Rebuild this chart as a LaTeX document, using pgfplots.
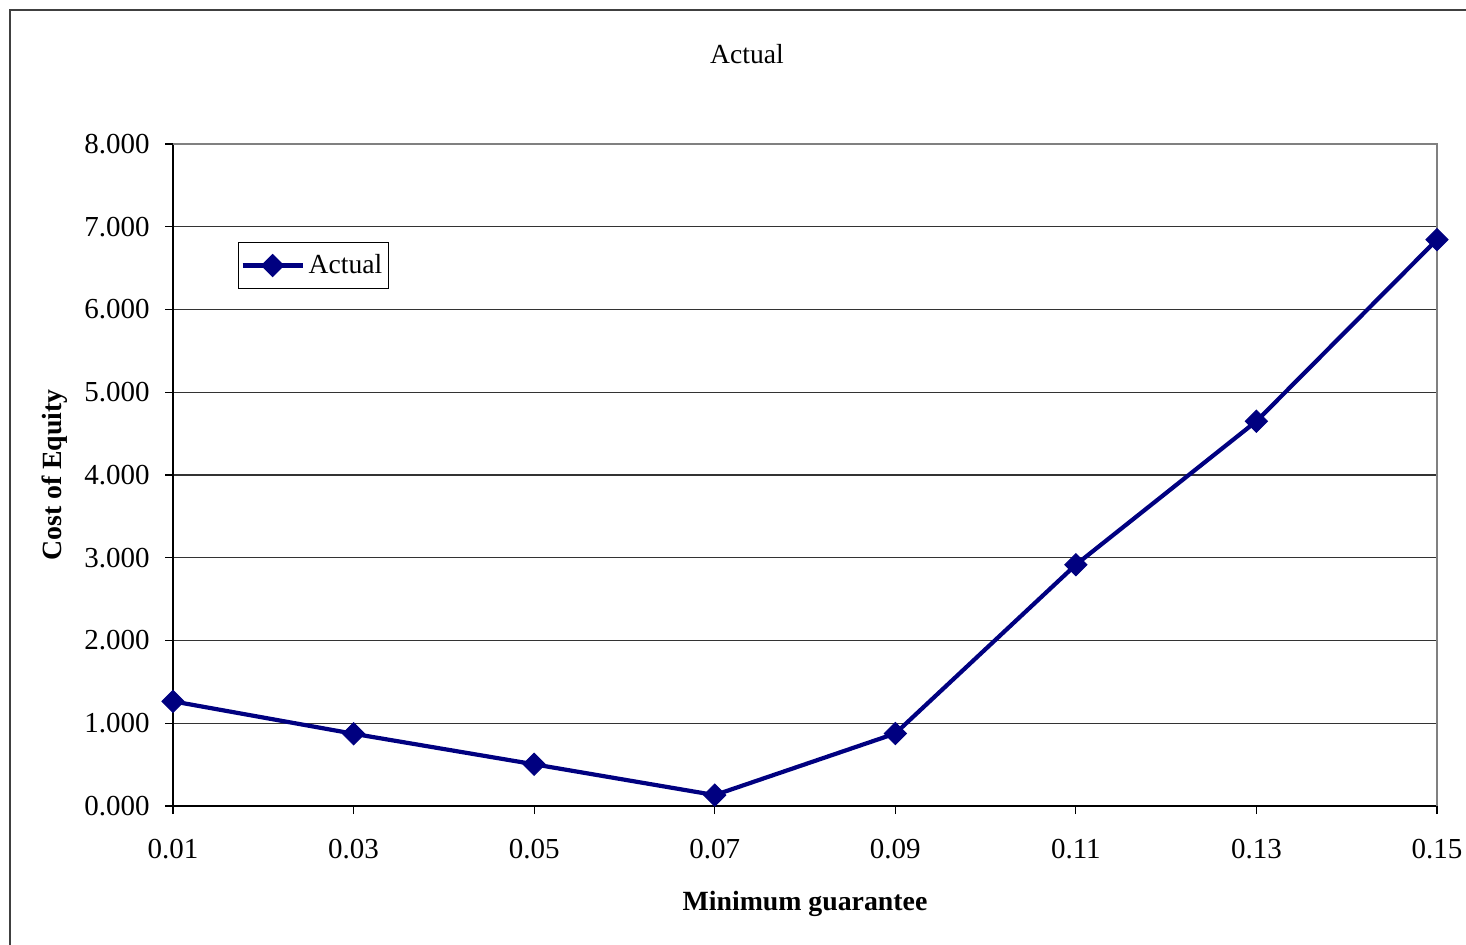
\documentclass[border=0pt]{standalone}
\usepackage{pgfplots}
\pgfplotsset{compat=1.18}
\usepackage{fontspec}
\setmainfont{Liberation Serif}
\definecolor{navyline}{RGB}{0,0,128}
\definecolor{frame}{RGB}{64,64,64}

\begin{document}
\begin{tikzpicture}[x=1pt,y=1pt]
  % page area and the chart frame (left and top edges visible)
  \useasboundingbox (0,0) rectangle (733,472);
  \draw[frame, line width=1pt] (5,-20) -- (5,467) -- (760,467);
  % chart title
  \node[font=\fontsize{13.8}{16}\selectfont] at (373.5,445) {Actual};

  \begin{axis}[
    at={(86.5pt,69pt)}, anchor=south west,
    scale only axis, width=632pt, height=331pt,
    xmin=0, xmax=7, ymin=0, ymax=8,
    xtick={0,...,7},
    xticklabels={0.01,0.03,0.05,0.07,0.09,0.11,0.13,0.15},
    ytick={0,...,8},
    yticklabels={0.000,1.000,2.000,3.000,4.000,5.000,6.000,7.000,8.000},
    axis lines*=left,
    axis line style={black, line width=0.6pt, -},
    tick align=outside,
    major tick length=4pt,
    tick style={black, line width=0.6pt},
    ymajorgrids,
    major grid style={black!80, line width=0.6pt},
    ticklabel style={font=\fontsize{14.5}{17}\selectfont},
    yticklabel style={anchor=east, inner sep=0pt, xshift=-7.5pt},
    xticklabel style={anchor=north, inner sep=0pt, yshift=-12.5pt},
    xlabel={\textbf{Minimum guarantee}},
    ylabel={\textbf{Cost of Equity}},
    label style={font=\fontsize{13.9}{16}\selectfont},
    xlabel style={at={(axis description cs:0.5,0)}, anchor=center, yshift=-49pt},
    ylabel style={at={(axis description cs:0,0.5)}, anchor=center, yshift=59pt},
    legend style={at={(0.0514,0.852)}, anchor=north west, draw=black,
      line width=0.5pt, font=\fontsize{13.8}{16}\selectfont,
      inner xsep=1pt, inner ysep=4pt, row sep=0pt},
    legend cell align=left,
    legend image code/.code={%
      \draw[mark repeat=2,mark phase=2] plot coordinates {(0pt,0pt)(15pt,0pt)(30pt,0pt)};},
    clip=false,
  ]
    \addplot[navyline, line width=2.1pt, mark=square*,
      mark size=3.9pt, mark options={rotate=45, line width=0.5pt, fill=navyline}]
      coordinates {
        (0,1.265) (1,0.873) (2,0.504) (3,0.132)
        (4,0.876) (5,2.916) (6,4.650) (7,6.845)
      };
    \addlegendentry{Actual}
    % plot area border on top and right
    \draw[gray, line width=0.8pt] (rel axis cs:0,1) -- (rel axis cs:1,1) -- (rel axis cs:1,0);
  \end{axis}
\end{tikzpicture}
\end{document}
